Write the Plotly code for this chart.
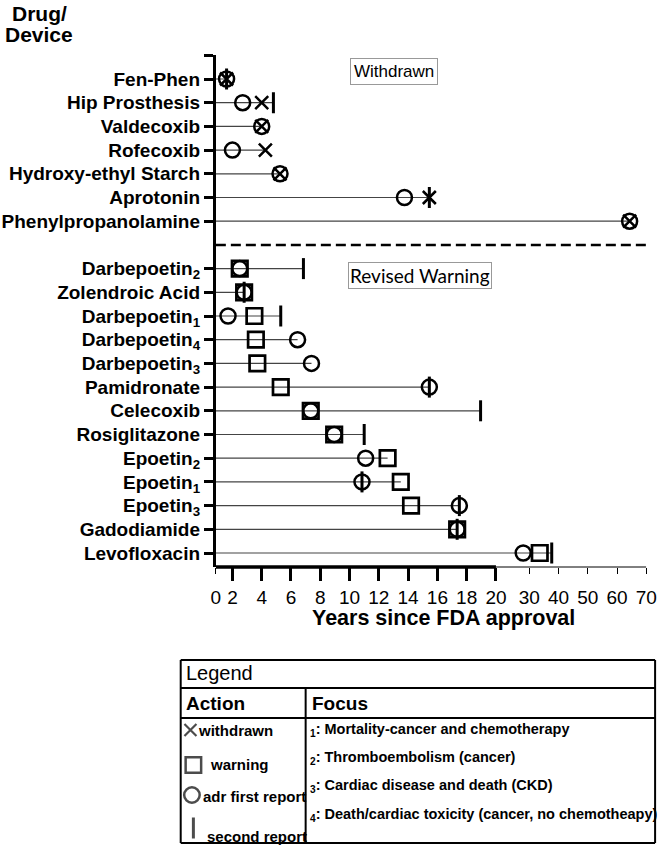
import numpy as np
import plotly.graph_objects as go

W, H = 670, 852

# ---------------- data (years since FDA approval; None = no event) ----------------
withdrawn_names = ["Fen-Phen", "Hip Prosthesis", "Valdecoxib", "Rofecoxib",
                   "Hydroxy-ethyl Starch", "Aprotonin", "Phenylpropanolamine"]
withdrawn_adr_first = [1.6, 2.7, 4.0, 2.0, 5.25, 13.75, 64.3]
withdrawn_action = [1.6, 4.0, 4.0, 4.25, 5.25, 15.45, 64.3]
withdrawn_second = [1.6, 4.8, None, None, None, 15.45, None]

revised_names = ["Darbepoetin<sub>2</sub>", "Zolendroic Acid", "Darbepoetin<sub>1</sub>",
                 "Darbepoetin<sub>4</sub>", "Darbepoetin<sub>3</sub>", "Pamidronate",
                 "Celecoxib", "Rosiglitazone", "Epoetin<sub>2</sub>", "Epoetin<sub>1</sub>",
                 "Epoetin<sub>3</sub>", "Gadodiamide", "Levofloxacin"]
revised_adr_first = [2.5, 2.8, 1.7, 6.45, 7.4, 15.45, 7.35, 8.95, 11.1, 10.85, 17.5, 17.35, 28.2]
revised_warning = [2.5, 2.8, 3.5, 3.6, 3.7, 5.3, 7.35, 8.95, 12.6, 13.5, 14.2, 17.35, 33.6]
revised_second = [6.85, 2.8, 5.3, None, None, 15.45, 18.95, 11.0, None, 10.85, 17.5, 17.35, 37.7]

x_ticks_low = [2, 4, 6, 8, 10, 12, 14, 16, 18, 20]
x_ticks_high = [30, 40, 50, 60, 70]

focus_notes = ["Mortality-cancer and chemotherapy", "Thromboembolism (cancer)",
               "Cardiac disease and death (CKD)", "Death/cardiac toxicity (cancer, no chemotheapy)"]
action_labels = ["withdrawn", "warning", "adr first report", "second report"]

# ---------------- broken axis transform ----------------
BREAK_IN = [0, 20, 30, 70]
BREAK_OUT = [0, 20, 22.27, 30.27]


def ax(v):
    return None if v is None else float(np.interp(v, BREAK_IN, BREAK_OUT))


X_START, X_END = 0.867, 30.27

withdrawn_rows = list(range(len(withdrawn_names)))
revised_rows = [len(withdrawn_names) + 1 + i for i in range(len(revised_names))]
sep_row = len(withdrawn_names)

FONT = "Liberation Sans, Arial, sans-serif"

fig = go.Figure()

# row guide lines (axis to last event)
lx, ly = [], []
for rows, groups in [(withdrawn_rows, [withdrawn_adr_first, withdrawn_action, withdrawn_second]),
                     (revised_rows, [revised_adr_first, revised_warning, revised_second])]:
    for i, r in enumerate(rows):
        vals = [g[i] for g in groups if g[i] is not None]
        lx += [X_START, ax(max(vals)), None]
        ly += [r, r, None]
fig.add_trace(go.Scatter(x=lx, y=ly, mode="lines", line=dict(color="#444444", width=1.2),
                         hoverinfo="skip", showlegend=False))


def pts(rows, vals):
    xs, ys = [], []
    for r, v in zip(rows, vals):
        if v is not None:
            xs.append(ax(v))
            ys.append(r)
    return xs, ys


CIRCLE = dict(symbol="circle-open", size=15, color="black", line=dict(width=2.5, color="black"))
SQUARE = dict(symbol="square-open", size=15.5, color="black", line=dict(width=2.7, color="black"))
XMARK = dict(symbol="x-thin-open", size=13, color="black", line=dict(width=2.5, color="black"))
BAR = dict(symbol="line-ns-open", size=15, color="black", line=dict(width=3, color="black"))

x, y = pts(revised_rows, revised_warning)
fig.add_trace(go.Scatter(x=x, y=y, mode="markers", marker=SQUARE, showlegend=False))
x, y = pts(withdrawn_rows + revised_rows, withdrawn_adr_first + revised_adr_first)
fig.add_trace(go.Scatter(x=x, y=y, mode="markers", marker=CIRCLE, showlegend=False))
x, y = pts(withdrawn_rows, withdrawn_action)
fig.add_trace(go.Scatter(x=x, y=y, mode="markers", marker=XMARK, showlegend=False))
x, y = pts(withdrawn_rows + revised_rows, withdrawn_second + revised_second)
fig.add_trace(go.Scatter(x=x, y=y, mode="markers", marker=BAR, showlegend=False))

# legend key symbols on a full-figure pixel axis
leg_px = [190, 193, 191.5, 193]
leg_py = [730, 765, 795, 828]
fig.add_trace(go.Scatter(x=leg_px, y=leg_py, xaxis="x3", yaxis="y3", mode="markers",
                         marker=dict(symbol=["x-thin-open", "square-open", "circle-open", "line-ns-open"],
                                     size=[12, 15.5, 15.5, 15], color="black",
                                     line=dict(width=[2.2, 2.5, 2.5, 3], color="black")),
                         showlegend=False, hoverinfo="skip"))

# dummy for the secondary x axis
fig.add_trace(go.Scatter(x=[X_START], y=[-5], xaxis="x2", yaxis="y", mode="markers",
                         marker=dict(opacity=0), showlegend=False, hoverinfo="skip"))


def px(xp):
    return xp / W


def py(yp):
    return 1 - yp / H


y_top, y_bot = 55, 567
row0_px, row20_px = 79, 553
step = (row20_px - row0_px) / 20
y_range = [(y_bot - row0_px) / step, (y_top - row0_px) / step]

xdom = [px(216), px(657)]
ydom = [py(y_bot), py(y_top)]

tickfont_y = dict(family=FONT, size=19, color="black")
tickfont_x = dict(family=FONT, size=19, color="black")

fig.update_layout(
    width=W, height=H,
    margin=dict(l=0, r=0, t=0, b=0),
    paper_bgcolor="white", plot_bgcolor="rgba(0,0,0,0)",
    showlegend=False,
    xaxis=dict(domain=xdom, range=[X_START, X_END], showgrid=False, zeroline=False, showline=False,
               tickvals=x_ticks_low, ticktext=[str(t) for t in x_ticks_low],
               ticks="outside", ticklen=13, tickwidth=3, tickcolor="black",
               tickfont=tickfont_x, tickprefix="<b>", ticksuffix="</b>"),
    xaxis2=dict(domain=xdom, range=[X_START, X_END], overlaying="x", anchor="y", side="bottom",
                showgrid=False, zeroline=False, showline=False,
                tickvals=[X_START] + [ax(t) for t in x_ticks_high],
                ticktext=["0"] + [str(t) for t in x_ticks_high],
                ticks="outside", ticklen=6, tickwidth=1, tickcolor="black",
                ticklabelstandoff=7,
                tickfont=tickfont_x, tickprefix="<b>", ticksuffix="</b>"),
    yaxis=dict(domain=ydom, range=y_range, showgrid=False, zeroline=False,
               showline=True, linewidth=3, linecolor="black",
               tickvals=[-1] + withdrawn_rows + revised_rows,
               ticktext=[""] + ["<b>" + n + "</b>" for n in withdrawn_names + revised_names],
               ticks="outside", ticklen=9, tickwidth=2.5, tickcolor="black",
               tickfont=tickfont_y),
    xaxis3=dict(domain=[0, 1], range=[0, W], visible=False, anchor="y3"),
    yaxis3=dict(domain=[0, 1], range=[H, 0], visible=False, anchor="x3"),
)

shapes = []
# x axis lines (thick linear part, thin compressed part)
shapes.append(dict(type="line", xref="x", yref="paper", x0=X_START, x1=20, y0=ydom[0], y1=ydom[0],
                   line=dict(color="black", width=3.5)))
shapes.append(dict(type="line", xref="x", yref="paper", x0=20, x1=X_END, y0=ydom[0], y1=ydom[0],
                   line=dict(color="black", width=1)))
# separator between withdrawn and revised warning
shapes.append(dict(type="line", xref="x", yref="y", x0=X_START, x1=X_END, y0=sep_row, y1=sep_row,
                   line=dict(color="black", width=2.5, dash="10px,5px")))

# legend table
T_L, T_R, T_T, T_B = 180, 666, 660, 843
for (x0, y0, x1, y1) in [(T_L, T_T, T_R, T_T), (T_L, T_B, T_R, T_B), (T_L, T_T, T_L, T_B),
                         (T_R, T_T, T_R, T_B), (T_L, 688, T_R, 688), (T_L, 718, T_R, 718),
                         (308, 688, 308, T_B)]:
    shapes.append(dict(type="line", xref="paper", yref="paper", x0=px(x0), x1=px(x1),
                       y0=py(y0), y1=py(y1), line=dict(color="black", width=2)))
fig.update_layout(shapes=shapes)

ann = []


def text(x, y, s, size, bold=True, xanchor="left", family=FONT, **kw):
    ann.append(dict(x=px(x), y=py(y), xref="paper", yref="paper", text=("<b>" + s + "</b>") if bold else s,
                    showarrow=False, xanchor=xanchor, yanchor="middle",
                    font=dict(family=family, size=size, color="black"), **kw))


text(35, 13, "Drug/", 21, xanchor="center")
text(35, 34, "Device", 21, xanchor="center")
text(449, 618, "Years since FDA approval", 21.5, xanchor="center")
text(399, 71.5, "Withdrawn", 17, bold=False, xanchor="center",
     bordercolor="#999999", borderwidth=1, borderpad=3)
text(425, 275, "Revised Warning", 19, bold=False, xanchor="center", family="Lato, Carlito, sans-serif",
     bordercolor="#999999", borderwidth=1, borderpad=1)

text(183, 673, "Legend", 20, bold=False)
text(183, 703, "Action", 19)
text(312, 703, "Focus", 19)
text(196, 730, action_labels[0], 15)
text(208, 764, action_labels[1], 15)
text(201, 796, action_labels[2], 15)
text(205, 836, action_labels[3], 15)
for i, (note, yy) in enumerate(zip(focus_notes, [730, 758, 786, 815])):
    text(310, yy, "<sub>%d</sub>: %s" % (i + 1, note), 14.5)

fig.update_layout(annotations=ann)

# remove the default page margin so the figure sits at the window's top-left corner
fig.write_html("out.html", config={"displayModeBar": False},
               post_script="document.body.style.margin='0';")
